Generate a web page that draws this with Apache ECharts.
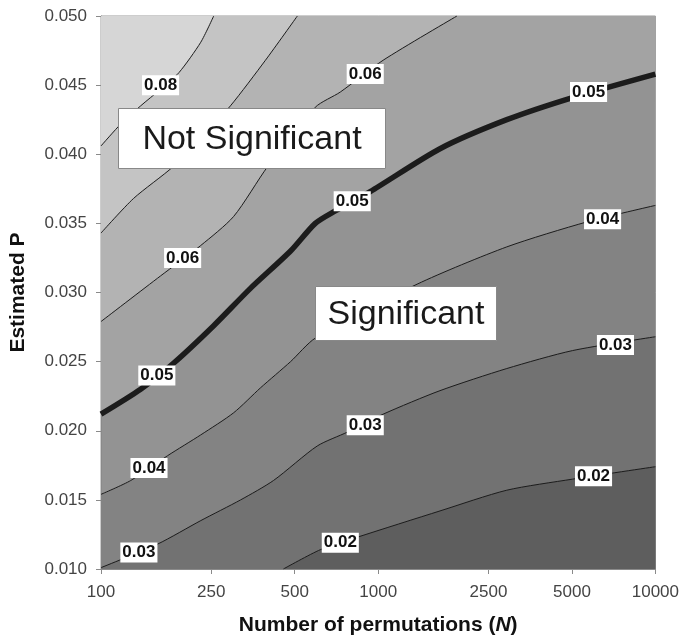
<!DOCTYPE html>
<html><head><meta charset="utf-8">
<script src="https://cdn.jsdelivr.net/npm/echarts@6/dist/echarts.min.js"></script>
<style>html,body{margin:0;padding:0;background:#fff}#c{width:682px;height:641px}</style>
</head><body><div id="c"></div>
<script>
// ---- data ----
const xTickValues = [100, 250, 500, 1000, 2500, 5000, 10000];
const yMin = 0.010, yMax = 0.050, yStep = 0.005;

// contour lines: N (permutations) and P (estimated P)
const N_008 = [100, 118, 139, 164, 191, 229, 255];
const P_008 = [0.0406, 0.0422, 0.0435, 0.0447, 0.0459, 0.0481, 0.0500];
const N_007 = [100, 131, 182, 229, 293, 392, 511];
const P_007 = [0.0343, 0.0368, 0.0391, 0.0412, 0.0435, 0.0468, 0.0500];
const N_006 = [100, 164, 229, 301, 399, 593, 730, 1042, 1924];
const P_006 = [0.0279, 0.0312, 0.0334, 0.0355, 0.0391, 0.0434, 0.0445, 0.0468, 0.0500];
const N_005 = [100, 139, 183, 255, 346, 483, 593, 700, 936, 1671, 2911, 5028, 10000];
const P_005 = [0.0212, 0.0230, 0.0249, 0.0276, 0.0303, 0.0330, 0.0350, 0.0359, 0.0373, 0.0404, 0.0425, 0.0441, 0.0458];
const N_004 = [100, 128, 174, 229, 301, 376, 483, 593, 1381, 2911, 5647, 10000];
const P_004 = [0.0154, 0.0164, 0.0182, 0.0197, 0.0213, 0.0231, 0.0250, 0.0267, 0.0306, 0.0333, 0.0351, 0.0363];
const N_003 = [100, 160, 229, 319, 419, 603, 774, 1042, 1671, 2911, 5028, 10000];
const P_003 = [0.0101, 0.0118, 0.0135, 0.0150, 0.0164, 0.0189, 0.0199, 0.0212, 0.0229, 0.0245, 0.0258, 0.0268];
const N_002 = [455, 619, 841, 1671, 2911, 5028, 10000];
const P_002 = [0.0100, 0.0114, 0.0123, 0.0142, 0.0157, 0.0165, 0.0174];

// contour labels
const labelText = ['0.08', '0.06', '0.06', '0.05', '0.05', '0.05', '0.04', '0.04', '0.03', '0.03', '0.03', '0.02', '0.02'];
const labelN = [164, 898, 197, 159, 806, 5741, 149, 6450, 137, 898, 7178, 730, 5983];
const labelP = [0.0450, 0.0458, 0.0325, 0.0240, 0.0366, 0.0445, 0.0173, 0.0353, 0.0112, 0.0204, 0.0262, 0.0119, 0.0167];

const regionText = ['Not Significant', 'Significant'];

// ---- styles ----
const FONT = '"Liberation Sans", Arial, Helvetica, sans-serif';
const C8 = '#d6d6d6', C7 = '#c4c4c4', C6 = '#b3b3b3', C5 = '#a3a3a3',
      C4 = '#939393', C3 = '#838383', C2 = '#727272', C1 = '#5e5e5e';

function pairs(ns, ps) { return ns.map((n, i) => [n, ps[i]]); }
function contour(ns, ps, fill, origin, width) {
  return {
    type: 'line', data: pairs(ns, ps), symbol: 'none', showSymbol: false,
    smooth: 0.25, clip: true, silent: true, z: 2,
    lineStyle: { color: '#1c1c1c', width: width },
    areaStyle: { color: fill, opacity: 1, origin: origin }
  };
}

const chart = echarts.init(document.getElementById('c'), null, { renderer: 'canvas' });
chart.setOption({
  animation: false,
  backgroundColor: '#ffffff',
  grid: { left: 100, right: 26, top: 16, bottom: 69, show: true, backgroundColor: C4, borderColor: '#9a9a9a', borderWidth: 1 },
  xAxis: {
    type: 'log', logBase: 10, min: 100, max: 10000,
    name: 'Number of permutations ({i|N})', nameLocation: 'middle', nameGap: 46,
    nameTextStyle: { fontFamily: FONT, fontSize: 21, fontWeight: 'bold', color: '#111',
      rich: { i: { fontFamily: FONT, fontSize: 21, fontWeight: 'bold', fontStyle: 'italic', color: '#111' } } },
    axisLine: { show: true, lineStyle: { color: '#8a8a8a', width: 1 } },
    axisTick: { show: true, length: 5, customValues: xTickValues, lineStyle: { color: '#8a8a8a' } },
    minorTick: { show: false },
    axisLabel: { customValues: xTickValues, margin: 15, fontFamily: FONT, fontSize: 17, color: '#444',
      formatter: v => String(Math.round(v)) },
    splitLine: { show: false }
  },
  yAxis: {
    type: 'value', min: yMin, max: yMax, interval: yStep,
    name: 'Estimated P', nameLocation: 'middle', nameGap: 72, nameRotate: 90,
    nameTextStyle: { fontFamily: FONT, fontSize: 21, fontWeight: 'bold', color: '#111' },
    axisLine: { show: true, lineStyle: { color: '#8a8a8a', width: 1 } },
    axisTick: { show: true, length: 5, lineStyle: { color: '#8a8a8a' } },
    axisLabel: { margin: 14, fontFamily: FONT, fontSize: 17, color: '#444', formatter: v => v.toFixed(3) },
    splitLine: { show: false }
  },
  series: [
    contour(N_005, P_005, C5, 'end', 5.5),
    contour(N_006, P_006, C6, 'end', 1),
    contour(N_007, P_007, C7, 'end', 1),
    contour(N_008, P_008, C8, 'end', 1),
    contour(N_004, P_004, C3, 'start', 1),
    contour(N_003, P_003, C2, 'start', 1),
    contour(N_002, P_002, C1, 'start', 1),
    {
      type: 'scatter', silent: true, z: 10, symbolSize: 0,
      itemStyle: { opacity: 1 },
      data: labelN.map((n, i) => ({ value: [n, labelP[i]], name: labelText[i] })),
      label: { show: true, position: 'inside', formatter: '{b}', fontFamily: FONT, fontSize: 17, opacity: 1,
        fontWeight: 'bold', color: '#111', backgroundColor: '#ffffff', padding: [2, 2, 1, 2] }
    }
  ],
  graphic: [
    { type: 'group', left: 118, top: 108, z: 100, children: [
      { type: 'rect', z: 100, shape: { x: 0, y: 0, width: 267, height: 60 }, style: { fill: '#fff', stroke: '#888', lineWidth: 1 } },
      { type: 'text', z: 101, x: 133.5, y: 31, style: { text: regionText[0], font: '34px ' + FONT, fill: '#1a1a1a', textAlign: 'center', textVerticalAlign: 'middle' } }
    ]},
    { type: 'group', left: 315, top: 286, z: 100, children: [
      { type: 'rect', z: 100, shape: { x: 0, y: 0, width: 181, height: 54 }, style: { fill: '#fff', stroke: '#888', lineWidth: 1 } },
      { type: 'text', z: 101, x: 90.5, y: 28, style: { text: regionText[1], font: '34px ' + FONT, fill: '#1a1a1a', textAlign: 'center', textVerticalAlign: 'middle' } }
    ]}
  ]
});
</script></body></html>
